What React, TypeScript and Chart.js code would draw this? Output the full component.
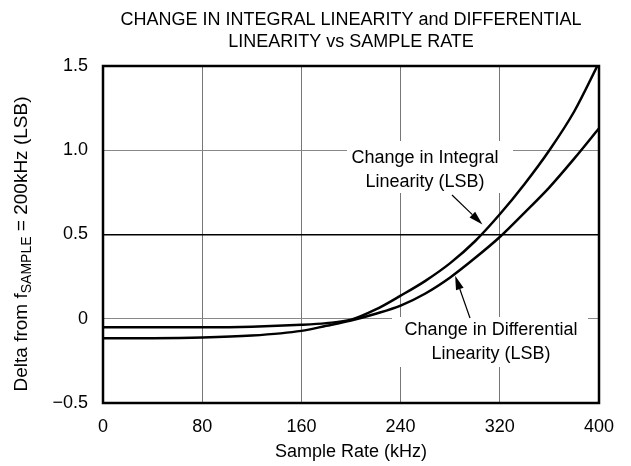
import React, { useEffect, useRef } from "react";
import { Chart, registerables } from "chart.js";

Chart.register(...registerables);

const sampleRates = [0, 40, 80, 120, 160, 180, 200, 220, 240, 260, 280, 300, 320, 340, 360, 380, 400];
const integralLinearity = [-0.05, -0.05, -0.05, -0.047, -0.036, -0.026, -0.006, 0.055, 0.137, 0.225, 0.33, 0.46, 0.62, 0.8, 1.0, 1.23, 1.52];
const differentialLinearity = [-0.115, -0.115, -0.112, -0.1, -0.072, -0.042, -0.01, 0.03, 0.078, 0.15, 0.245, 0.36, 0.485, 0.63, 0.78, 0.95, 1.13];
const xTicks = [0, 80, 160, 240, 320, 400];
const yTicks = [-0.5, 0, 0.5, 1.0, 1.5];
const yTickLabels = ["\u22120.5", "0", "0.5", "1.0", "1.5"];
const titleLines = ["CHANGE IN INTEGRAL LINEARITY and DIFFERENTIAL", "LINEARITY vs SAMPLE RATE"];
const xTitle = "Sample Rate (kHz)";
const integralLabel = ["Change in Integral", "Linearity (LSB)"];
const differentialLabel = ["Change in Differential", "Linearity (LSB)"];

const FONT = '"Liberation Sans", Arial, sans-serif';
const FS = 18;

function arrow(ctx: CanvasRenderingContext2D, x1: number, y1: number, x2: number, y2: number) {
  const ang = Math.atan2(y2 - y1, x2 - x1);
  const len = 14;
  const w = 4;
  const bx = x2 - len * Math.cos(ang);
  const by = y2 - len * Math.sin(ang);
  ctx.save();
  ctx.strokeStyle = "#000";
  ctx.fillStyle = "#000";
  ctx.lineWidth = 1.2;
  ctx.beginPath();
  ctx.moveTo(x1, y1);
  ctx.lineTo(bx, by);
  ctx.stroke();
  ctx.beginPath();
  ctx.moveTo(x2, y2);
  ctx.lineTo(bx + w * Math.sin(ang), by - w * Math.cos(ang));
  ctx.lineTo(bx - w * Math.sin(ang), by + w * Math.cos(ang));
  ctx.closePath();
  ctx.fill();
  ctx.restore();
}

const decorPlugin = {
  id: "decor",
  beforeDatasetsDraw(chart: any) {
    const ctx: CanvasRenderingContext2D = chart.ctx;
    const xs = chart.scales.x;
    const ys = chart.scales.y;
    ctx.save();
    ctx.fillStyle = "#fff";
    ctx.fillRect(347, 141, 166, 52);
    ctx.fillRect(392, 317, 196, 50);
    ctx.fillStyle = "#000";
    ctx.font = FS + "px " + FONT;
    ctx.textAlign = "center";
    ctx.textBaseline = "middle";
    ctx.fillText(integralLabel[0], 425, 158);
    ctx.fillText(integralLabel[1], 425, 182);
    ctx.fillText(differentialLabel[0], 491, 330);
    ctx.fillText(differentialLabel[1], 491, 354);
    ctx.restore();
    arrow(ctx, 452, 195, xs.getPixelForValue(306), ys.getPixelForValue(0.56));
    arrow(ctx, 470, 318, xs.getPixelForValue(284), ys.getPixelForValue(0.255));
  },
  afterDraw(chart: any) {
    const ctx: CanvasRenderingContext2D = chart.ctx;
    const a = chart.chartArea;
    ctx.save();
    ctx.strokeStyle = "#000";
    ctx.lineWidth = 2.5;
    ctx.strokeRect(a.left, a.top, a.right - a.left, a.bottom - a.top);
    const cx = (a.left + a.right) / 2;
    ctx.fillStyle = "#000";
    ctx.textAlign = "center";
    ctx.textBaseline = "middle";
    ctx.font = FS + "px " + FONT;
    ctx.fillText(titleLines[0], cx, 20);
    ctx.fillText(titleLines[1], cx, 42);
    ctx.fillText(xTitle, cx, 452);
    ctx.translate(22, 244);
    ctx.rotate(-Math.PI / 2);
    const p1 = "Delta from f";
    const sub = "SAMPLE";
    const p2 = " = 200kHz (LSB)";
    const big = "19px " + FONT;
    const small = "14px " + FONT;
    ctx.font = big;
    const w1 = ctx.measureText(p1).width;
    const w3 = ctx.measureText(p2).width;
    ctx.font = small;
    const w2 = ctx.measureText(sub).width;
    const total = w1 + w2 + w3;
    let x = -total / 2;
    ctx.textAlign = "left";
    ctx.font = big;
    ctx.fillText(p1, x, 0);
    x += w1;
    ctx.font = small;
    ctx.fillText(sub, x, 5);
    x += w2;
    ctx.font = big;
    ctx.fillText(p2, x, 0);
    ctx.restore();
  },
};

export default function App() {
  const ref = useRef<HTMLCanvasElement | null>(null);
  useEffect(() => {
    if (!ref.current) return;
    const chart = new Chart(ref.current, {
      type: "line",
      data: {
        datasets: [
          {
            label: "Integral",
            data: sampleRates.map((x, i) => ({ x, y: integralLinearity[i] })),
            borderColor: "#000",
            borderWidth: 2.5,
            pointRadius: 0,
            cubicInterpolationMode: "monotone",
            fill: false,
          },
          {
            label: "Differential",
            data: sampleRates.map((x, i) => ({ x, y: differentialLinearity[i] })),
            borderColor: "#000",
            borderWidth: 2.5,
            pointRadius: 0,
            cubicInterpolationMode: "monotone",
            fill: false,
          },
        ],
      },
      options: {
        animation: false,
        responsive: false,
        maintainAspectRatio: false,
        devicePixelRatio: 1,
        layout: { padding: { left: 0, top: 66, right: 32, bottom: 0 } },
        plugins: { legend: { display: false }, tooltip: { enabled: false }, title: { display: false } },
        scales: {
          x: {
            type: "linear",
            min: 0,
            max: 400,
            afterBuildTicks: (s: any) => {
              s.ticks = xTicks.map((v) => ({ value: v }));
            },
            afterFit: (s: any) => {
              s.height = 63;
            },
            grid: { color: "#777", lineWidth: 1, drawTicks: false },
            border: { display: false },
            ticks: { color: "#000", font: { family: FONT, size: FS }, padding: 13, maxRotation: 0 },
          },
          y: {
            type: "linear",
            min: -0.5,
            max: 1.5,
            afterBuildTicks: (s: any) => {
              s.ticks = yTicks.map((v) => ({ value: v }));
            },
            afterFit: (s: any) => {
              s.width = 103;
            },
            grid: {
              color: (c: any) => (c.tick && c.tick.value === 0.5 ? "#000" : "#888"),
              lineWidth: (c: any) => (c.tick && c.tick.value === 0.5 ? 1.5 : 1),
              drawTicks: false,
            },
            border: { display: false },
            ticks: {
              color: "#000",
              font: { family: FONT, size: FS },
              padding: 15,
              callback: (v: any) => {
                const i = yTicks.indexOf(Number(v));
                return i >= 0 ? yTickLabels[i] : "";
              },
            },
          },
        },
      },
      plugins: [decorPlugin],
    } as any);
    return () => chart.destroy();
  }, []);
  return (
    <div style={{ position: "fixed", left: 0, top: 0, width: 631, height: 466, background: "#fff" }}>
      <canvas ref={ref} width={631} height={466} style={{ width: 631, height: 466, display: "block" }} />
    </div>
  );
}
